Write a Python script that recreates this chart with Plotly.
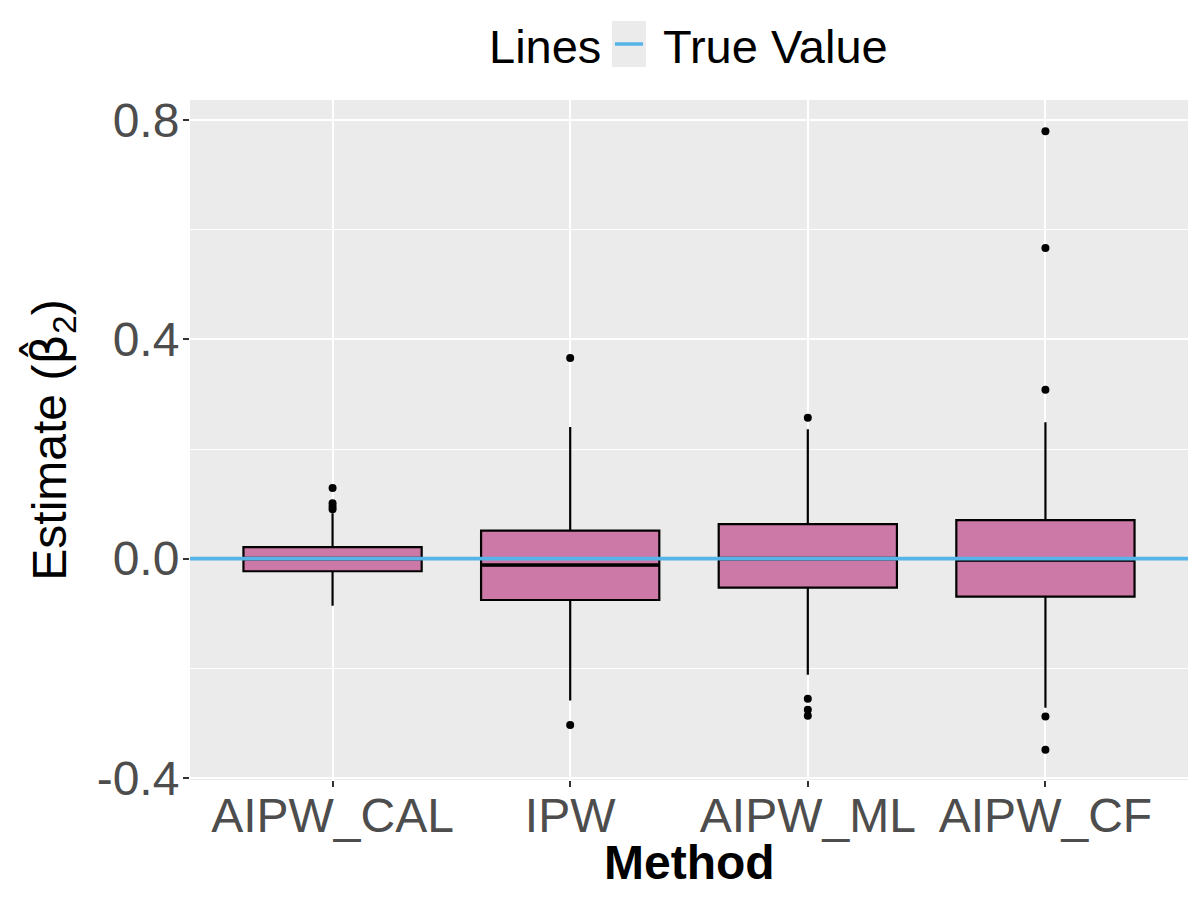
import plotly.graph_objects as go

methods = ["AIPW_CAL", "IPW", "AIPW_ML", "AIPW_CF"]
q1 = [-0.023, -0.0755, -0.053, -0.0695]
median = [0.0, -0.0117, 0.0, -0.0026]
q3 = [0.021, 0.051, 0.063, 0.0704]
lower_fence = [-0.086, -0.259, -0.212, -0.272]
upper_fence = [0.083, 0.240, 0.236, 0.249]
outliers = {
    "AIPW_CAL": [0.129, 0.101, 0.095, 0.090],
    "IPW": [0.366, -0.3035],
    "AIPW_ML": [0.257, -0.2555, -0.276, -0.2866],
    "AIPW_CF": [0.780, 0.567, 0.308, -0.288, -0.349],
}
true_value = 0.0
y_ticks = [-0.4, 0.0, 0.4, 0.8]
y_tick_labels = ["-0.4", "0.0", "0.4", "0.8"]
y_minor = [-0.2, 0.2, 0.6]
legend_title = "Lines"
legend_label = "True Value"
x_title = "Method"

xpos = list(range(1, len(methods) + 1))
x_range = [0.4, len(methods) + 0.6]
box_width = 0.75
line_color = "#56B4E9"
fill = "#CC79A7"

# plot-area geometry in pixels (for the hand-built ggplot-style legend)
W, H = 1200, 900
ML, MR, MT, MB = 190, 12, 100, 120
PW, PH = W - ML - MR, H - MT - MB
def px(x):
    return (x - ML) / PW
def py(y):
    return 1 + (MT - y) / PH

fig = go.Figure()
fig.add_trace(go.Box(
    x=xpos, q1=q1, median=median, q3=q3,
    lowerfence=lower_fence, upperfence=upper_fence,
    width=box_width, whiskerwidth=0,
    fillcolor=fill, line=dict(color="black", width=2.2),
    boxpoints=False, showlegend=False, hoverinfo="skip",
))
mx, my = [], []
for i, m in enumerate(median):
    mx += [xpos[i] - box_width / 2, xpos[i] + box_width / 2, None]
    my += [m, m, None]
fig.add_trace(go.Scatter(x=mx, y=my, mode="lines",
                         line=dict(color="black", width=3.6),
                         showlegend=False, hoverinfo="skip"))
ox, oy = [], []
for i, m in enumerate(methods):
    for v in outliers[m]:
        ox.append(xpos[i])
        oy.append(v)
fig.add_trace(go.Scatter(x=ox, y=oy, mode="markers",
                         marker=dict(color="black", size=8),
                         showlegend=False, hoverinfo="skip"))
fig.add_trace(go.Scatter(x=x_range, y=[true_value, true_value], mode="lines",
                         line=dict(color=line_color, width=3.8),
                         name=legend_label, showlegend=False))

font_main = "Liberation Sans, Arial, sans-serif"
fig.update_layout(
    width=W, height=H,
    paper_bgcolor="white", plot_bgcolor="#EBEBEB",
    margin=dict(l=ML, r=MR, t=MT, b=MB, autoexpand=False),
    font=dict(family=font_main, size=46, color="black"),
    showlegend=False,
    shapes=[
        dict(type="rect", xref="paper", yref="paper",
             x0=px(612), x1=px(646), y0=py(67), y1=py(21),
             fillcolor="#EBEBEB", line=dict(width=0), layer="above"),
        dict(type="line", xref="paper", yref="paper",
             x0=px(615), x1=px(643), y0=py(44), y1=py(44),
             line=dict(color=line_color, width=3.5), layer="above"),
    ],
    annotations=[
        dict(text=legend_title, xref="paper", yref="paper", x=px(487), y=py(46),
             xanchor="left", yanchor="middle", showarrow=False,
             font=dict(size=47, color="black")),
        dict(text=legend_label, xref="paper", yref="paper", x=px(661), y=py(46),
             xanchor="left", yanchor="middle", showarrow=False,
             font=dict(size=47, color="black")),
        dict(text="<b>" + x_title + "</b>", xref="paper", yref="paper", x=0.5, y=py(862),
             xanchor="center", yanchor="middle", showarrow=False,
             font=dict(size=48, color="black")),
    ],
    xaxis=dict(
        range=x_range, tickmode="array", tickvals=xpos, ticktext=methods,
        showgrid=True, gridcolor="white", gridwidth=2,
        zeroline=False, showline=False, automargin=False,
        ticks="outside", ticklen=6, tickwidth=1.5, tickcolor="#333333",
        tickfont=dict(size=48, color="#4D4D4D"), ticklabelstandoff=-13,
    ),
    yaxis=dict(
        range=[-0.404, 0.837], tickmode="array", tickvals=y_ticks, ticktext=y_tick_labels,
        showgrid=True, gridcolor="white", gridwidth=2,
        zeroline=False, showline=False, automargin=False,
        ticks="outside", ticklen=6, tickwidth=1.5, tickcolor="#333333",
        tickfont=dict(size=48, color="#4D4D4D"), ticklabelstandoff=-6,
        minor=dict(tickvals=y_minor, showgrid=True, gridcolor="white", gridwidth=1, ticks=""),
        title=dict(text="Estimate (<span style=\"font-family:DejaVu Sans\">β\u0302</span><sub>2</sub>)",
                   font=dict(size=48, color="black"), standoff=14),
    ),
)
fig.write_html("out.html", post_script="document.body.style.margin='0px';",
               config={"displayModeBar": False})
